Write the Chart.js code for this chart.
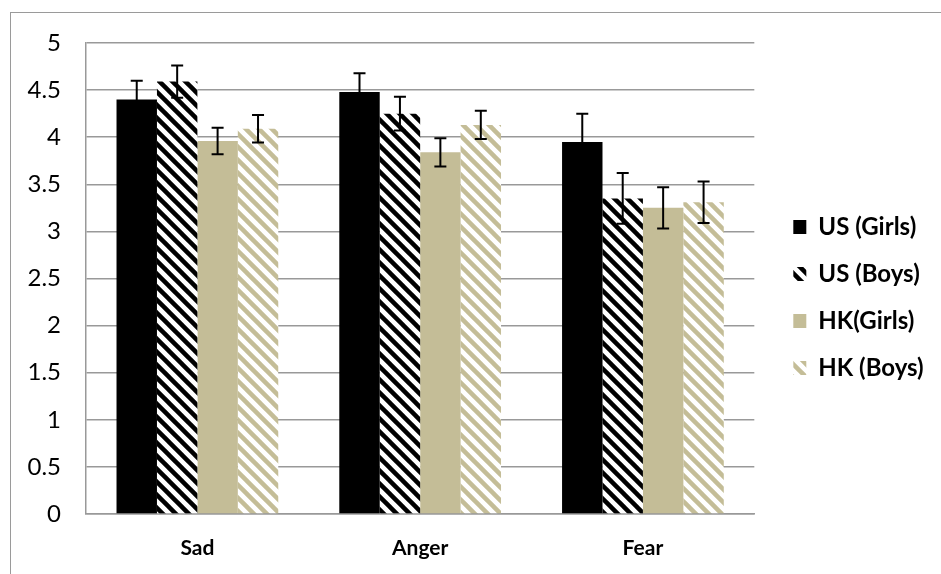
<!DOCTYPE html>
<html>
<head>
<meta charset="utf-8">
<script src="https://cdn.jsdelivr.net/npm/chart.js@4.4.1/dist/chart.umd.min.js"></script>
<style>
  html, body { margin: 0; padding: 0; background: #fff; }
  #wrap { position: relative; width: 941px; height: 574px; overflow: hidden; }
  #frame { position: absolute; left: 10px; top: 12px; width: 960px; height: 600px; border: 1.5px solid #9a9a9a; }
  canvas { position: absolute; left: 0; top: 0; }
</style>
</head>
<body>
<div id="wrap">
  <div id="frame"></div>
  <canvas id="emotionChart" width="941" height="574"></canvas>
</div>
<script>
// values
const categories = ['Sad', 'Anger', 'Fear'];
const seriesNames = ['US (Girls)', 'US (Boys)', 'HK(Girls)', 'HK (Boys)'];

const usGirls = [4.40, 4.48, 3.95];
const usBoys = [4.59, 4.25, 3.35];
const hkGirls = [3.96, 3.84, 3.25];
const hkBoys = [4.09, 4.13, 3.31];

const usGirlsErr = [0.20, 0.20, 0.30];
const usBoysErr = [0.17, 0.18, 0.27];
const hkGirlsErr = [0.14, 0.15, 0.22];
const hkBoysErr = [0.145, 0.15, 0.22];

const fontFamily = "Lato, 'Open Sans', sans-serif";
const tan = '#c4bd97';

// diagonal stripes like Excel's wide downward diagonal
function stripes(color) {
    const s = 13;
    const c = document.createElement('canvas');
    c.width = s;
    c.height = s;
    const g = c.getContext('2d');
    g.fillStyle = '#fff';
    g.fillRect(0, 0, s, s);
    g.strokeStyle = color;
    g.lineWidth = 4.5;
    for (let k = -1; k <= 1; k++) {
        g.beginPath();
        g.moveTo(k * s - 2, -2);
        g.lineTo(k * s + s + 2, s + 2);
        g.stroke();
    }
    return g.createPattern(c, 'repeat');
}

const errorBars = {
    id: 'errorBars',
    afterDatasetsDraw(chart) {
        const { ctx } = chart;
        const y = chart.scales.y;
        ctx.save();
        ctx.strokeStyle = '#000';
        ctx.lineWidth = 2;
        chart.data.datasets.forEach((ds, i) => {
            const meta = chart.getDatasetMeta(i);
            meta.data.forEach((bar, j) => {
                const top = y.getPixelForValue(ds.data[j] + ds.errors[j]);
                const bot = y.getPixelForValue(ds.data[j] - ds.errors[j]);
                const x = bar.x;
                ctx.beginPath();
                ctx.moveTo(x, top); ctx.lineTo(x, bot);
                ctx.moveTo(x - 6, top); ctx.lineTo(x + 6, top);
                ctx.moveTo(x - 6, bot); ctx.lineTo(x + 6, bot);
                ctx.stroke();
            });
        });
        ctx.restore();
    }
};

// work out the right padding so the legend sits where Excel put it
const legendFont = { family: fontFamily, size: 24, weight: 'bold' };
const legendPad = 23;
const boxW = 13;
const measure = document.createElement('canvas').getContext('2d');
measure.font = `bold ${legendFont.size}px ${fontFamily}`;
const textW = Math.max(...seriesNames.map(n => measure.measureText(n).width));
const legendWidth = legendPad + boxW + legendFont.size / 2 + textW;
const padRight = Math.max(0, 941 - 771 - legendWidth);

const ctx = document.getElementById('emotionChart').getContext('2d');
new Chart(ctx, {
    type: 'bar',
    data: {
        labels: categories,
        datasets: [
            { label: seriesNames[0], data: usGirls, errors: usGirlsErr, backgroundColor: '#000' },
            { label: seriesNames[1], data: usBoys, errors: usBoysErr, backgroundColor: stripes('#000') },
            { label: seriesNames[2], data: hkGirls, errors: hkGirlsErr, backgroundColor: tan },
            { label: seriesNames[3], data: hkBoys, errors: hkBoysErr, backgroundColor: stripes(tan) }
        ]
    },
    options: {
        responsive: false,
        animation: false,
        datasets: {
            bar: { categoryPercentage: 0.726, barPercentage: 1, borderWidth: 0 }
        },
        layout: { padding: { top: 43, bottom: 0, left: 0, right: padRight } },
        plugins: {
            tooltip: { enabled: false },
            legend: {
                position: 'right',
                align: 'center',
                fullSize: false,
                title: { display: true, text: '', padding: { top: 26, bottom: 0 }, font: { size: 10 } },
                labels: {
                    boxWidth: boxW,
                    boxHeight: 14,
                    padding: legendPad,
                    color: '#000',
                    font: legendFont
                }
            }
        },
        scales: {
            x: {
                grid: { display: false, drawTicks: false },
                border: { color: '#999', width: 1.5 },
                ticks: { color: '#000', padding: 22, font: { family: fontFamily, size: 21, weight: 'bold' } },
                afterFit(s) { s.height = 60; }
            },
            y: {
                min: 0,
                max: 5,
                ticks: {
                    stepSize: 0.5,
                    padding: 25,
                    color: '#000',
                    font: { family: fontFamily, size: 24 },
                    callback: v => String(v)
                },
                grid: { color: '#999', lineWidth: 1.5, drawTicks: false },
                border: { color: '#999', width: 1.5 },
                afterFit(s) { s.width = 86; }
            },
            y2: {
                type: 'linear',
                position: 'right',
                display: true,
                grid: { display: false, drawTicks: false },
                border: { display: false },
                ticks: { display: false },
                afterFit(s) { s.width = 16; }
            }
        }
    },
    plugins: [errorBars]
});
</script>
</body>
</html>
